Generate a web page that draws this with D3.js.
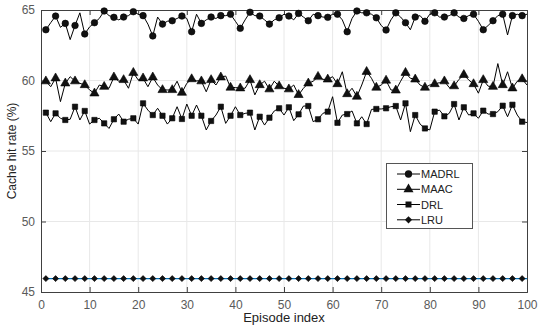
<!DOCTYPE html>
<html><head><meta charset="utf-8">
<script src="https://cdn.jsdelivr.net/npm/d3@7"></script>
<style>body{margin:0;background:#fff;} svg{display:block;font-family:"Liberation Sans",Arial,sans-serif;}</style>
</head><body><svg id="c" width="542" height="328"></svg>
<script>
const episodes = d3.range(1, 101);
const madrl = [63.6,64.1,64.57,63.77,64.05,62.9,63.9,64.8,63.3,63.8,64.1,64.4,64.93,64.6,64.48,64.3,64.5,64.6,64.88,64.7,
64.6,64.0,63.16,64.5,64.0,64.2,64.24,64.4,64.57,64.4,63.46,64.7,64.05,64.3,64.5,64.4,64.6,64.6,64.7,64.2,
63.7,64.3,64.84,64.6,64.57,64.3,64.0,64.3,64.45,64.7,64.57,64.3,64.76,64.5,64.24,64.7,64.6,64.5,64.48,64.7,
64.7,64.3,63.46,64.4,64.93,64.8,64.8,64.7,64.45,63.9,63.58,64.3,64.8,64.5,64.1,63.6,64.5,64.6,64.2,64.7,
64.8,64.5,64.5,64.6,64.8,64.5,64.4,64.6,64.7,64.2,63.6,63.9,64.24,64.6,64.7,63.23,64.6,64.7,64.6,64.7];
const maac = [59.95,59.56,60.16,58.5,59.8,60.27,59.95,59.8,59.68,59.33,59.09,59.68,59.56,59.45,60.23,59.95,60.04,59.45,60.55,60.04,
60.16,59.56,60.23,59.68,59.33,59.33,59.33,59.95,59.14,59.8,60.1,59.98,59.95,59.2,60.04,59.68,60.23,60.32,59.5,59.5,
59.45,59.45,60.04,58.98,59.68,59.95,59.38,59.95,59.6,59.45,59.38,59.68,58.98,59.45,59.8,59.95,60.27,60.08,60.08,60.27,
59.75,60.62,59.04,59.45,58.86,59.68,60.62,60.16,59.5,59.68,60.0,59.33,59.3,59.95,60.55,60.16,60.08,59.68,59.5,59.68,
59.75,59.85,59.95,59.5,59.6,60.08,60.4,60.04,59.75,59.1,60.04,59.6,59.56,61.2,59.68,60.62,59.45,59.95,60.1,59.68];
const drl = [57.72,57.08,57.67,57.32,57.2,57.25,58.14,57.2,57.84,56.91,57.2,57.32,56.96,56.6,57.25,57.62,57.08,57.25,57.32,56.91,
58.38,57.9,57.55,58.03,57.5,56.91,57.32,58.14,57.27,58.33,57.5,58.26,57.5,56.49,57.13,57.55,58.14,56.96,57.5,58.14,
57.55,57.67,57.72,56.49,57.43,56.84,57.36,57.84,58.03,57.55,58.1,57.15,57.6,58.19,58.19,57.08,57.25,57.67,57.79,58.85,
57.0,57.55,57.62,57.84,56.96,57.43,56.91,57.95,57.98,57.98,58.03,58.14,58.19,57.2,58.38,56.37,57.55,56.91,56.6,56.5,
57.79,57.9,57.46,57.67,58.33,57.2,58.1,57.55,57.67,57.32,57.86,57.62,57.62,57.79,58.21,57.43,58.28,57.55,57.08,57.02];
const lru = episodes.map(() => 45.95);
const seriesNames = ["MADRL", "MAAC", "DRL", "LRU"];
const xTicks = [0,10,20,30,40,50,60,70,80,90,100];
const yTicks = [45,50,55,60,65];

const svg = d3.select("#c");
const L = 41, R = 527, T = 10, B = 292;
const x = d3.scaleLinear().domain([0,100]).range([L,R]);
const y = d3.scaleLinear().domain([45,65]).range([B,T]);

// grid
const g = svg.append("g");
g.selectAll(".gx").data(xTicks.slice(1,-1)).join("line")
  .attr("x1",d=>x(d)).attr("x2",d=>x(d)).attr("y1",T).attr("y2",B)
  .attr("stroke","#e8e8e8").attr("stroke-width",1);
g.selectAll(".gy").data(yTicks.slice(1,-1)).join("line")
  .attr("y1",d=>y(d)).attr("y2",d=>y(d)).attr("x1",L).attr("x2",R)
  .attr("stroke","#e8e8e8").attr("stroke-width",1);

// axes
const axColor = "#404040";
const xAxis = svg.append("g").attr("transform",`translate(0,${B})`)
  .call(d3.axisBottom(x).tickValues(xTicks).tickSize(-5).tickPadding(8));
const xTop = svg.append("g").attr("transform",`translate(0,${T})`)
  .call(d3.axisTop(x).tickValues(xTicks).tickSize(-5).tickFormat(""));
const yAxis = svg.append("g").attr("transform",`translate(${L},0)`)
  .call(d3.axisLeft(y).tickValues(yTicks).tickSize(-5).tickPadding(6));
const yRight = svg.append("g").attr("transform",`translate(${R},0)`)
  .call(d3.axisRight(y).tickValues(yTicks).tickSize(-5).tickFormat(""));
[xAxis,xTop,yAxis,yRight].forEach(a=>{
  a.select(".domain").attr("stroke",axColor).attr("stroke-width",1);
  a.selectAll(".tick line").attr("stroke",axColor);
  a.selectAll("text").attr("fill","#5a5a5a").attr("font-size","12px").attr("font-family","Liberation Sans, Arial, sans-serif");
});

// labels
svg.append("text").attr("x",284).attr("y",322).attr("text-anchor","middle")
  .attr("font-size","13px").attr("fill","#222").text("Episode index");
svg.append("text").attr("transform",`translate(16,${(T+B)/2}) rotate(-90)`).attr("text-anchor","middle")
  .attr("font-size","12px").attr("fill","#222").text("Cache hit rate (%)");

// series
const data = [madrl, maac, drl, lru];
const lineColors = ["#000","#000","#000","#0072BD"];
const symbols = [d3.symbolCircle, d3.symbolTriangle, d3.symbolSquare, d3.symbolSquare];
const symSizes = [34, 36, 28, 18];
const symRot = [0, 0, 0, 45];
const line = d3.line().x((d,i)=>x(episodes[i])).y(d=>y(d));
const plot = svg.append("g");
data.forEach((vals,k)=>{
  plot.append("path").datum(vals).attr("d",line).attr("fill","none")
    .attr("stroke",lineColors[k]).attr("stroke-width",k===3?1.3:1);
  const pts = vals.map((v,i)=>({e:episodes[i],v})).filter(p=>p.e%2===1);
  plot.selectAll(null).data(pts).join("path")
    .attr("transform",p=>`translate(${x(p.e)},${y(p.v)}) rotate(${symRot[k]})`)
    .attr("d",d3.symbol().type(symbols[k]).size(symSizes[k]))
    .attr("fill","#111").attr("stroke","#000").attr("stroke-width",0.6);
});

// legend
const lg = svg.append("g");
lg.append("rect").attr("x",386.5).attr("y",163.5).attr("width",86).attr("height",65)
  .attr("fill","#fff").attr("stroke","#555").attr("stroke-width",1);
const ly = [174,189.3,204.5,219.8];
seriesNames.forEach((n,k)=>{
  lg.append("line").attr("x1",397).attr("x2",420).attr("y1",ly[k]).attr("y2",ly[k])
    .attr("stroke","#000").attr("stroke-width",1);
  lg.append("path").attr("transform",`translate(408.5,${ly[k]}) rotate(${symRot[k]})`)
    .attr("d",d3.symbol().type(symbols[k]).size(symSizes[k]+8)).attr("fill","#111");
  lg.append("text").attr("x",421).attr("y",ly[k]+4).attr("font-size","11px").attr("fill","#222").text(n);
});
</script></body></html>
